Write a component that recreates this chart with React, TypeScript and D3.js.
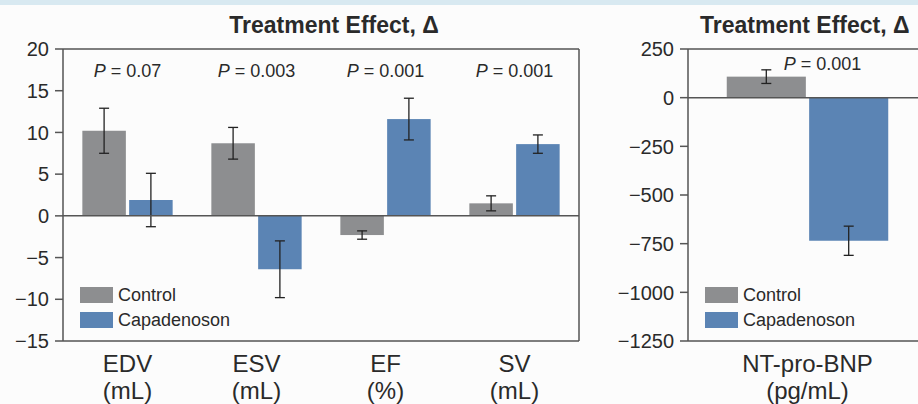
import React from "react";
import * as d3 from "d3";

const categories = ["EDV", "ESV", "EF", "SV"];
const units = ["(mL)", "(mL)", "(%)", "(mL)"];
const pLabels = ["0.07", "0.003", "0.001", "0.001"];
const controlValues = [10.2, 8.7, -2.3, 1.5];
const controlErrors = [2.7, 1.9, 0.5, 0.9];
const capaValues = [1.9, -6.4, 11.6, 8.6];
const capaErrors = [3.2, 3.4, 2.5, 1.1];
const leftTicks = [20, 15, 10, 5, 0, -5, -10, -15];

const bnpCategory = ["NT-pro-BNP"];
const bnpUnit = ["(pg/mL)"];
const bnpP = ["0.001"];
const bnpControl = [108];
const bnpControlErr = [35];
const bnpCapa = [-735];
const bnpCapaErr = [75];
const rightTicks = [250, 0, -250, -500, -750, -1000, -1250];

const series = ["Control", "Capadenoson"];
const colors = ["#8d8e90", "#5b84b4"];

const W = 918;
const H = 404;
const FONT = "'Liberation Sans', Arial, Helvetica, sans-serif";
const TEXT = "#2a2a2a";
const LINE = "#555";

type Bar = { cat: string; s: string; v: number; e: number; color: string };

function Panel(props: {
  x0: number;
  x1: number;
  cats: string[];
  unitsL: string[];
  ps: string[];
  bars: Bar[];
  domain: [number, number];
  ticks: number[];
  pInner: number;
  pOuter: number;
  subPad: number;
  closedRight: boolean;
  pY: number;
  pShift: number;
  legendX: number;
}) {
  const top = 49;
  const bottom = 341;
  const y = d3.scaleLinear().domain(props.domain).range([bottom, top]);
  const xb = d3
    .scaleBand<string>()
    .domain(props.cats)
    .range([props.x0, props.x1])
    .paddingInner(props.pInner)
    .paddingOuter(props.pOuter);
  const xs = d3
    .scaleBand<string>()
    .domain(series)
    .range([0, xb.bandwidth()])
    .paddingInner(props.subPad);
  const fmt = d3.format("");
  const capW = 10;
  return (
    <g>
      {props.bars.map((b, i) => {
        const bx = (xb(b.cat) as number) + (xs(b.s) as number);
        const y0 = y(0);
        const yv = y(b.v);
        const cx = bx + xs.bandwidth() / 2;
        const yt = y(b.v + b.e);
        const yb = y(b.v - b.e);
        return (
          <g key={i}>
            <rect x={bx} y={Math.min(y0, yv)} width={xs.bandwidth()} height={Math.abs(yv - y0)} fill={b.color} />
            <line x1={cx} x2={cx} y1={yt} y2={yb} stroke="#222" strokeWidth={1.3} />
            <line x1={cx - capW / 2} x2={cx + capW / 2} y1={yt} y2={yt} stroke="#222" strokeWidth={1.3} />
            <line x1={cx - capW / 2} x2={cx + capW / 2} y1={yb} y2={yb} stroke="#222" strokeWidth={1.3} />
          </g>
        );
      })}
      <line x1={props.x0} x2={props.x0} y1={top} y2={bottom} stroke={LINE} strokeWidth={1.5} />
      <line x1={props.x0} x2={props.x1} y1={top} y2={top} stroke={LINE} strokeWidth={1.5} />
      <line x1={props.x0} x2={props.x1} y1={bottom} y2={bottom} stroke={LINE} strokeWidth={1.5} />
      <line x1={props.x0} x2={props.x1} y1={y(0)} y2={y(0)} stroke={LINE} strokeWidth={1.5} />
      {props.closedRight && (
        <line x1={props.x1} x2={props.x1} y1={top} y2={bottom} stroke={LINE} strokeWidth={1.5} />
      )}
      {props.ticks.map((t) => (
        <g key={t}>
          <line x1={props.x0 - 8} x2={props.x0} y1={y(t)} y2={y(t)} stroke={LINE} strokeWidth={1.5} />
          <text x={props.x0 - 14} y={y(t)} dy="0.36em" textAnchor="end" fontSize={20} fill={TEXT} fontFamily={FONT}>
            {fmt(t)}
          </text>
        </g>
      ))}
      {props.cats.map((c, i) => (
        <text
          key={c}
          x={(xb(c) as number) + xb.bandwidth() / 2 + props.pShift}
          y={props.pY}
          textAnchor="middle"
          fontSize={18}
          fill={TEXT}
          fontFamily={FONT}
        >
          <tspan fontStyle="italic">P</tspan>
          {" = " + props.ps[i]}
        </text>
      ))}
      {props.cats.map((c, i) => (
        <text key={"c" + c} y={372} textAnchor="middle" fontSize={24} fill={TEXT} fontFamily={FONT}>
          <tspan x={(xb(c) as number) + xb.bandwidth() / 2}>{c}</tspan>
          <tspan x={(xb(c) as number) + xb.bandwidth() / 2} dy={27}>
            {props.unitsL[i]}
          </tspan>
        </text>
      ))}
      {series.map((s, i) => (
        <g key={s}>
          <rect x={props.legendX} y={287 + i * 25} width={33} height={16} fill={colors[i]} />
          <text x={props.legendX + 38} y={301 + i * 25} fontSize={18} fill={TEXT} fontFamily={FONT}>
            {s}
          </text>
        </g>
      ))}
    </g>
  );
}

export default function App() {
  const leftBars: Bar[] = [];
  categories.forEach((c, i) => {
    leftBars.push({ cat: c, s: series[0], v: controlValues[i], e: controlErrors[i], color: colors[0] });
    leftBars.push({ cat: c, s: series[1], v: capaValues[i], e: capaErrors[i], color: colors[1] });
  });
  const rightBars: Bar[] = [];
  bnpCategory.forEach((c, i) => {
    rightBars.push({ cat: c, s: series[0], v: bnpControl[i], e: bnpControlErr[i], color: colors[0] });
    rightBars.push({ cat: c, s: series[1], v: bnpCapa[i], e: bnpCapaErr[i], color: colors[1] });
  });
  return (
    <svg width={W} height={H} style={{ position: "absolute", left: 0, top: 0, background: "#fcfcfc" }}>
      <rect x={0} y={0} width={W} height={H} fill="#fcfcfc" />
      <rect x={0} y={0} width={W} height={5} fill="#d8e9f1" />
      <text x={334} y={33} textAnchor="middle" fontSize={23} fontWeight="bold" fill={TEXT} fontFamily={FONT}>
        Treatment Effect, Δ
      </text>
      <text x={700} y={33} textAnchor="start" fontSize={23} fontWeight="bold" fill={TEXT} fontFamily={FONT}>
        Treatment Effect, Δ
      </text>
      <Panel
        x0={63}
        x1={579}
        cats={categories}
        unitsL={units}
        ps={pLabels}
        bars={leftBars}
        domain={[-15, 20]}
        ticks={leftTicks}
        pInner={0.3}
        pOuter={0.15}
        subPad={0.07}
        closedRight={true}
        pY={77}
        pShift={0}
        legendX={80}
      />
      <Panel
        x0={688}
        x1={927}
        cats={bnpCategory}
        unitsL={bnpUnit}
        ps={bnpP}
        bars={rightBars}
        domain={[-1250, 250]}
        ticks={rightTicks}
        pInner={0}
        pOuter={0.24}
        subPad={0.04}
        closedRight={false}
        pY={70}
        pShift={15}
        legendX={705}
      />
    </svg>
  );
}
